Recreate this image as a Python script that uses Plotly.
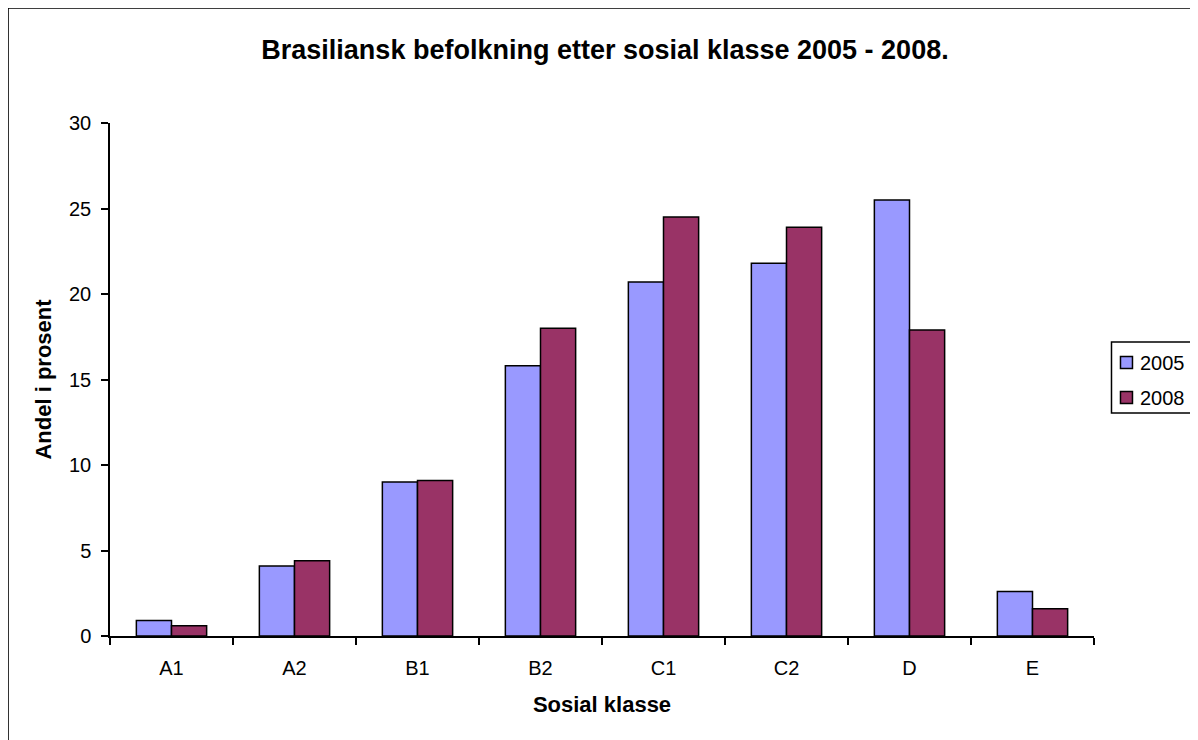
import plotly.graph_objects as go

categories = ["A1", "A2", "B1", "B2", "C1", "C2", "D", "E"]
values_2005 = [0.9, 4.1, 9.0, 15.8, 20.7, 21.8, 25.5, 2.6]
values_2008 = [0.6, 4.4, 9.1, 18.0, 24.5, 23.9, 17.9, 1.6]
series_names = ["2005", "2008"]
series_colors = ["#9999FF", "#993366"]
y_ticks = [0, 5, 10, 15, 20, 25, 30]

FONT = "Liberation Sans, Arial, sans-serif"
# page has an 8px body margin, so figure coords = page coords - 8
OFF = 8
W, H = 1198 - OFF, 740 - OFF
L = 110 - OFF
R = W - (1094.5 - OFF)
T = 123 - OFF
B = H - (636 - OFF)
pw = W - L - R
ph = H - T - B


def px(xp):  # page x -> paper x
    return (xp - OFF - L) / pw


def py(yp):  # page y -> paper y
    return (H - B - (yp - OFF)) / ph


fig = go.Figure()
for name, vals, col in zip(series_names, [values_2005, values_2008], series_colors):
    fig.add_trace(go.Bar(x=categories, y=vals, name=name, showlegend=False,
                         marker=dict(color=col, line=dict(color="black", width=1.5))))

fig.update_layout(
    width=W, height=H,
    margin=dict(l=L, r=R, t=T, b=B, autoexpand=False),
    paper_bgcolor="white", plot_bgcolor="white",
    barmode="group", bargap=0.4286, bargroupgap=0,
    font=dict(family=FONT, size=20, color="black"),
    showlegend=False,
    title=dict(text="<b>Brasiliansk befolkning etter sosial klasse 2005 - 2008.</b>",
               x=(605 - OFF) / W, xanchor="center", y=1 - (50 - OFF) / H, yanchor="middle",
               font=dict(size=27, family=FONT, color="black")),
    xaxis=dict(showline=True, linecolor="black", linewidth=1.5,
               ticks="outside", ticklen=7, tickcolor="black", tickwidth=1.5,
               tickson="boundaries", showgrid=False, ticklabelstandoff=13,
               tickfont=dict(size=20),
               title=dict(text="<b>Sosial klasse</b>", font=dict(size=22), standoff=19)),
    yaxis=dict(range=[0, 30], tickvals=y_ticks, showline=True, linecolor="black",
               linewidth=1.5, ticks="outside", ticklen=7, tickcolor="black",
               tickwidth=1.5, showgrid=False, zeroline=False, ticklabelstandoff=6,
               tickfont=dict(size=20),
               title=dict(text="<b>Andel i prosent</b>", font=dict(size=22), standoff=11)),
)

# chart frame
fig.add_shape(type="rect", xref="paper", yref="paper",
              x0=px(8), x1=px(1197), y0=py(760), y1=py(8),
              line=dict(color="black", width=1.5), fillcolor="rgba(0,0,0,0)", layer="below")

# legend box
fig.add_shape(type="rect", xref="paper", yref="paper",
              x0=px(1112), x1=px(1192), y0=py(413), y1=py(342),
              line=dict(color="black", width=1.5), fillcolor="white")
for i, (name, col) in enumerate(zip(series_names, series_colors)):
    yc = 362.5 + 35 * i
    fig.add_shape(type="rect", xref="paper", yref="paper",
                  x0=px(1121), x1=px(1133), y0=py(yc + 6), y1=py(yc - 6),
                  line=dict(color="black", width=1.5), fillcolor=col)
    fig.add_annotation(xref="paper", yref="paper", x=px(1139), y=py(yc),
                       xanchor="left", yanchor="middle", text=name, showarrow=False,
                       font=dict(size=20, family=FONT, color="black"))

fig.write_html("out.html")
